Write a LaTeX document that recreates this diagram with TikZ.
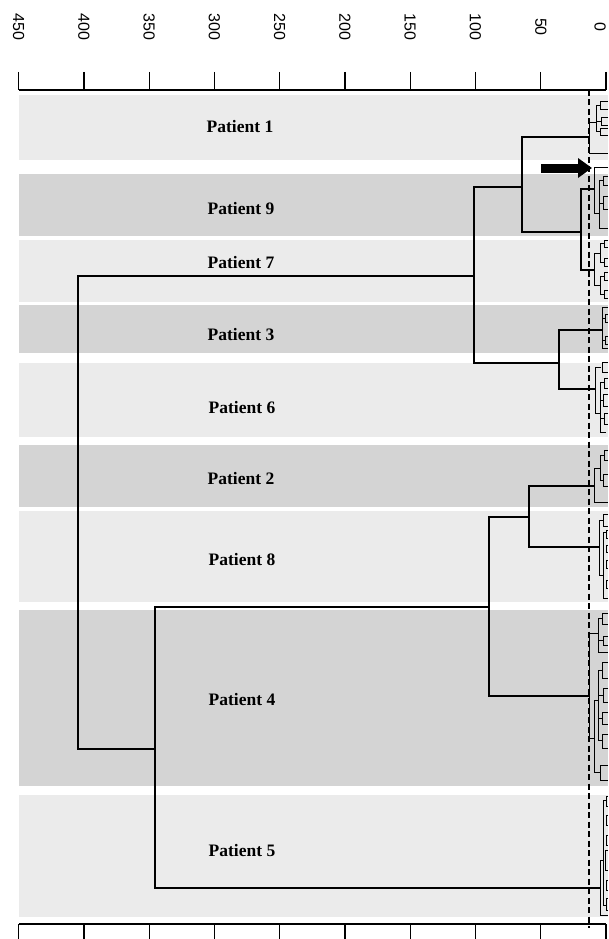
\documentclass[tikz,border=0pt]{standalone}
\usepackage{fontspec}
\setmainfont{Liberation Serif}
\newfontfamily\axisfont{Liberation Sans}
\usetikzlibrary{arrows.meta,calc}

\definecolor{bandlight}{gray}{0.92}
\definecolor{banddark}{gray}{0.83}

\tikzset{
  tree/.style={draw=black, line width=1.1pt},
  twigline/.style={draw=black, line width=0.8pt},
  patient/.style={font=\fontsize{17.5}{20}\selectfont\bfseries},
  ticklabel/.style={font=\axisfont\fontsize{16}{18}\selectfont, rotate=-90},
  cutline/.style={draw=black, line width=1.2pt, dash pattern=on 6pt off 3.5pt}
}

% small bracket of leaves, open to the right
\newcommand{\leaftwig}[3]{\draw[twigline] (608,#2) -| (#1,#3) -- (608,#3);}

\begin{document}
\begin{tikzpicture}[x=1pt, y=-1pt]
\useasboundingbox (0,0) rectangle (608,939);

% Patient bands
\foreach \top/\bot/\col in {95/160/bandlight, 174/236/banddark, 240/302/bandlight,
  305/353/banddark, 363/437/bandlight, 445/507/banddark, 511/602/bandlight,
  610/786/banddark, 795/917/bandlight} {
  \fill[\col] (19,\top) rectangle (608,\bot);
}

% Axes
\draw[tree] (19,90) -- (606,90);
\draw[tree] (19,924) -- (606,924);
\foreach \v in {0,50,...,450} {
  \pgfmathsetmacro{\tx}{606 - 1.305*\v}
  \pgfmathsetmacro{\lx}{min(\tx,600)}
  \draw[tree] (\tx,72) -- (\tx,90);
  \draw[tree] (\tx,924) -- (\tx,939);
  \node[ticklabel] (tick\v) at (\lx,27) {\v};
}

% Cut-off level
\coordinate (cuttop) at (589,90);
\coordinate (cutbot) at (589,928);
\draw[cutline] (cuttop) -- (cutbot);

% Subtree roots
\coordinate (p1) at (589,137);
\coordinate (p9) at (594,189);
\coordinate (p7) at (594,270);
\coordinate (p3) at (602,330);
\coordinate (p6) at (595,389);
\coordinate (p2) at (594,486);
\coordinate (p8) at (599,547);
\coordinate (p4) at (589,696);
\coordinate (p5) at (600,888);

% Merge points
\coordinate (gmerge) at (581,232);
\coordinate (fmerge) at (522,187);
\coordinate (hmerge) at (559,363);
\coordinate (emerge) at (474,276);
\coordinate (amerge) at (529,517);
\coordinate (bmerge) at (489,607);
\coordinate (cmerge) at (155,749);
\coordinate (root) at (78,512);

\draw[tree] (p9) -| (gmerge) |- (p7);
\draw[tree] (p1) -| (fmerge) |- (gmerge);
\draw[tree] (p3) -| (hmerge) |- (p6);
\draw[tree] (fmerge) -| (emerge) |- (hmerge);
\draw[tree] (p2) -| (amerge) |- (p8);
\draw[tree] (amerge) -| (bmerge) |- (p4);
\draw[tree] (bmerge) -| (cmerge) |- (p5);
\draw[tree] (emerge) -| (root) |- (cmerge);

% Leaves of patient 1
\draw[twigline] (596,122) -| (589,153) -- (608,153);
\draw[twigline] (600,105) -| (596,131) -- (600,131);
\draw[twigline] (596,121) -- (601,121);
\leaftwig{600}{101}{109}
\leaftwig{601}{117}{125}
\leaftwig{600}{128}{135}

% Leaves of patient 9
\draw[twigline] (608,167) -| (594,213) -- (599,213);
\draw[twigline] (603,180) -| (599,228) -- (608,228);
\leaftwig{603}{176}{185}
\draw[twigline] (599,203) -- (603,203);
\leaftwig{603}{196}{209}

% Leaves of patient 7
\draw[twigline] (600,253) -| (594,285) -- (600,285);
\draw[twigline] (604,243) -| (600,262) -- (604,262);
\leaftwig{604}{240}{247}
\leaftwig{604}{258}{266}
\draw[twigline] (604,276) -| (600,294) -- (604,294);
\leaftwig{604}{272}{280}
\leaftwig{604}{290}{298}

% Leaves of patient 3
\draw[twigline] (608,307) -| (602,348) -- (608,348);
\draw[twigline] (602,318) -- (605,318);
\leaftwig{605}{314}{322}
\draw[twigline] (602,340) -- (605,340);
\leaftwig{605}{336}{344}

% Leaves of patient 6
\draw[twigline] (601,367) -| (595,413) -- (600,413);
\leaftwig{602}{362}{372}
\draw[twigline] (604,382) -| (600,432) -- (606,432);
\leaftwig{604}{378}{388}
\draw[twigline] (600,400) -- (603,400);
\leaftwig{603}{394}{406}
\draw[twigline] (600,418) -- (604,418);
\leaftwig{604}{413}{424}

% Leaves of patient 2
\draw[twigline] (600,468) -| (594,502) -- (608,502);
\draw[twigline] (604,455) -| (600,480) -- (604,480);
\leaftwig{604}{450}{460}
\leaftwig{603}{474}{486}

% Leaves of patient 8
\draw[twigline] (603,520) -| (599,575) -- (603,575);
\leaftwig{603}{514}{526}
\draw[twigline] (606,532) -| (603,598) -- (608,598);
\leaftwig{606}{530}{538}
\leaftwig{606}{545}{552}
\leaftwig{606}{560}{568}
\leaftwig{606}{580}{588}

% Leaves of patient 4
\draw[twigline] (598,633) -| (589,738) -- (594,738);
\draw[twigline] (602,618) -| (598,652) -- (608,652);
\leaftwig{602}{613}{624}
\draw[twigline] (598,640) -- (603,640);
\leaftwig{603}{636}{645}
\draw[twigline] (598,700) -| (594,772) -- (600,772);
\draw[twigline] (602,670) -| (598,740) -- (602,740);
\leaftwig{602}{662}{678}
\draw[twigline] (598,695) -- (603,695);
\leaftwig{603}{688}{702}
\draw[twigline] (598,718) -- (602,718);
\leaftwig{602}{712}{724}
\leaftwig{602}{734}{748}
\leaftwig{600}{765}{780}

% Leaves of patient 5
\draw[twigline] (603,860) -| (600,915) -- (608,915);
\draw[twigline] (606,800) -| (603,905) -- (606,905);
\leaftwig{606}{796}{806}
\leaftwig{606}{815}{825}
\leaftwig{606}{835}{845}
\leaftwig{605}{850}{870}
\leaftwig{606}{880}{890}
\leaftwig{606}{898}{910}

% Marker arrow
\coordinate (arrowtail) at (541,168);
\coordinate (arrowtip) at (592,168);
\draw[line width=9pt, -{Triangle[length=14pt,width=19pt]}] (arrowtail) -- (arrowtip);

% Patient labels
\node[patient] (pat1) at (240,127) {Patient 1};
\node[patient] (pat9) at (241,209) {Patient 9};
\node[patient] (pat7) at (241,263) {Patient 7};
\node[patient] (pat3) at (241,335) {Patient 3};
\node[patient] (pat6) at (242,408) {Patient 6};
\node[patient] (pat2) at (241,479) {Patient 2};
\node[patient] (pat8) at (242,560) {Patient 8};
\node[patient] (pat4) at (242,700) {Patient 4};
\node[patient] (pat5) at (242,851) {Patient 5};

\end{tikzpicture}
\end{document}
